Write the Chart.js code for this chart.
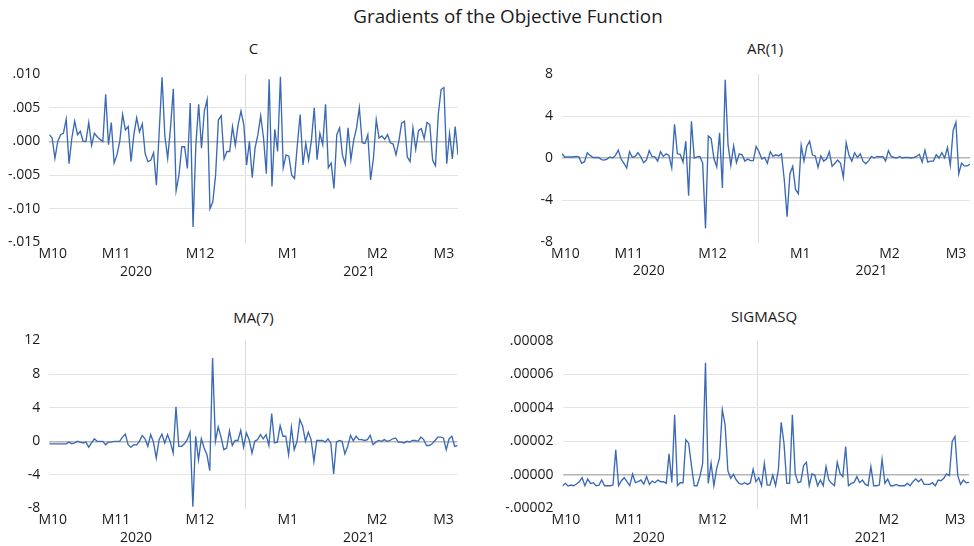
<!DOCTYPE html>
<html><head><meta charset="utf-8">
<script src="https://cdn.jsdelivr.net/npm/chart.js@4.4.1/dist/chart.umd.min.js"></script>
<style>
html,body{margin:0;padding:0;background:#fff;}
#wrap{position:relative;width:974px;height:546px;overflow:hidden;font-family:'Open Sans',sans-serif;color:#1a1a1a;background:#fff}
canvas{position:absolute}
.t{position:absolute;white-space:nowrap;transform:translate(-50%,-50%);line-height:1}
</style></head><body>
<div id="wrap">
  <div class="t" style="left:508px;top:16px;font-size:18.8px">Gradients of the Objective Function</div>
  <div class="t" style="left:253.5px;top:48px;font-size:15px">C</div>
  <div class="t" style="left:765px;top:48px;font-size:15px">AR(1)</div>
  <div class="t" style="left:253.5px;top:317px;font-size:15px">MA(7)</div>
  <div class="t" style="left:764px;top:316px;font-size:15px">SIGMASQ</div>
  <canvas id="p1" width="487" height="262" style="left:0px;top:30px"></canvas>
  <canvas id="p2" width="487" height="262" style="left:487px;top:30px"></canvas>
  <canvas id="p3" width="487" height="250" style="left:0px;top:296px"></canvas>
  <canvas id="p4" width="487" height="250" style="left:487px;top:296px"></canvas>
</div>
<script>
// ---- data (observation index 0..145, Oct 2020 - Mar 2021) ----
const C_VALUES = [
 .001,.0005,-.0025,0,.001,.0012,.0033,-.0033,.0005,.003,
 .001,.0015,0,0,.0028,-.0006,.0012,.0007,.0003,0,
 .007,-.0005,.0028,-.0032,-.002,0,.004,.0017,.0022,-.003,
 .001,.0035,.0014,.0026,-.0018,-.003,-.0028,-.0017,-.0065,.0015,
 .0095,.0008,-.0025,.002,.0078,-.0073,-.005,-.0008,-.0008,-.004,
 .0057,-.0127,-.0005,.0055,-.001,.0045,.0062,-.01,-.009,-.005,
 .0032,.0038,-.0026,-.0015,-.0015,.0022,-.0006,.0025,
 .0045,.0025,-.0035,0,-.0054,-.001,.001,.0038,.0005,-.0048,
 .0092,-.0067,.0018,-.0015,.0096,-.0039,-.002,-.0022,-.005,-.0055,
 -.0005,.004,-.0035,-.0003,-.0028,.0002,.005,-.0027,.0012,-.0005,
 .0055,-.0039,-.0032,-.007,.001,.002,-.002,-.0034,.002,-.0027,
 .0002,.002,.005,-.0002,-.0003,.001,-.0057,-.0025,.0032,.0005,
 .0008,.0003,.001,-.0002,-.0004,-.002,0,.0027,.003,-.0023,
 -.003,.002,-.0012,.0016,.0019,.0004,.0028,.0025,-.0028,-.0036,
 .004,.0077,.008,-.0033,.0012,-.0026,.0022,-.002
];
const AR1_VALUES = [
 0.4,0.1,0.1,0.1,0.1,0.15,0.1,-0.5,-0.35,0.5,
 0.25,0.05,0.05,0.05,-0.15,-0.2,-0.1,0.1,0,0.25,
 0.75,-0.1,-0.5,-0.95,0.6,0.05,0.15,0.5,0.1,-0.45,
 -0.2,0.7,0.15,0.1,-0.3,0.6,0.15,0.4,0.25,-0.95,
 3.2,0.4,0.35,-0.4,1.6,-3.6,3.5,0,0.1,0.15,
 -0.5,-6.7,2.1,1.85,-0.05,-0.85,2.4,-2.85,7.45,1.3,
 -0.7,1.15,-0.45,0.4,
 0.3,-0.3,-0.1,-0.25,-0.25,1.1,0.6,-0.1,0.05,-0.5,
 0.6,0.15,0.3,0.2,0.4,-2.1,-5.6,-1.5,-0.8,-3.0,
 -3.4,1.2,-0.3,1.1,1.6,0.3,0.2,-0.9,0.2,-0.3,
 -0.1,0.6,-0.8,-0.5,-0.2,-0.5,-1.85,1.45,0.25,-0.3,
 0.5,0.05,0.4,-0.3,-0.55,-0.25,0.15,0,0.15,0.1,
 0.15,-0.3,0.7,0.15,0.05,0,0.15,0,0.05,0.05,
 0,0.05,0.15,0.35,-0.4,0.75,-0.4,-0.3,-0.3,0.3,
 0,0.5,0,1.0,-0.7,2.6,3.4,-1.5,-0.5,-0.75,
 -0.75,-0.6
];
const MA7_VALUES = [
 -0.3,-0.3,-0.3,-0.3,-0.3,-0.3,-0.3,
 -0.1,-0.3,-0.2,0,-0.1,-0.2,-0.1,-0.7,-0.2,
 0.3,0,0,0,-0.4,-0.1,-0.1,0,0,0,
 0.5,0.85,-0.4,-0.7,-0.4,-0.45,0,0.7,0.3,-0.6,
 0.8,-0.1,-2.0,0.2,0.85,-0.2,0.8,-0.1,-1.4,4.1,
 -0.6,-0.6,-0.3,0.2,1.1,-7.8,0.6,-2.2,0.3,-0.8,
 -1.6,-3.5,9.9,0,1.7,0.5,-1.0,-0.8,1.25,-0.5,
 0.1,0.1,1.3,-0.7,1.0,0.2,
 -1.4,0,0.2,0.8,0.3,0.8,-0.5,3.3,-0.2,-0.1,
 1.85,0.6,0.6,-1.6,1.65,-1.0,0,2.6,1.8,0,
 1.1,0.2,-2.4,0.1,0.1,0.1,-0.1,0.3,-0.2,-3.9,
 -0.1,0.1,0,-1.5,-0.6,0.7,0.05,0.6,0.2,0.2,
 0.1,0.2,0.7,-0.4,-0.1,0.1,0,0.2,0,0.1,
 0.3,0.4,-0.1,-0.1,-0.2,0,-0.1,0.1,0.1,0,
 0.5,0.2,-0.5,-0.5,-0.3,0.1,0.5,0.5,0.4,-1.0,
 0.3,0.6,-0.6,-0.5
];
const SIGMASQ_VALUES = [
 -0.66e-5,-0.5e-5,-0.66e-5,-0.6e-5,-0.64e-5,-0.54e-5,-0.4e-5,-0.16e-5,-0.64e-5,-0.24e-5,
 -0.5e-5,-0.46e-5,-0.64e-5,-0.6e-5,-0.3e-5,-0.64e-5,-0.64e-5,-0.64e-5,-0.6e-5,1.5e-5,
 -0.64e-5,-0.34e-5,-0.16e-5,-0.4e-5,-0.64e-5,0.06e-5,-0.46e-5,-0.4e-5,-0.3e-5,-0.54e-5,
 -0.1e-5,-0.56e-5,-0.36e-5,-0.46e-5,-0.3e-5,-0.4e-5,-0.4e-5,-0.5e-5,1.26e-5,-0.44e-5,
 3.6e-5,-0.64e-5,-0.46e-5,-0.46e-5,2.1e-5,1.9e-5,0.56e-5,-0.64e-5,-0.64e-5,-0.1e-5,
 0.7e-5,6.7e-5,-0.5e-5,0.7e-5,-0.64e-5,0.4e-5,1.0e-5,3.9e-5,3.0e-5,0.24e-5,
 -0.2e-5,0.04e-5,-0.3e-5,-0.5e-5,
 -0.56e-5,-0.46e-5,-0.56e-5,-0.46e-5,0.34e-5,-0.4e-5,-0.16e-5,-0.64e-5,0.7e-5,-0.6e-5,
 -0.6e-5,0,-0.64e-5,0.3e-5,3.14e-5,1.9e-5,-0.5e-5,-0.5e-5,3.6e-5,0.1e-5,
 -0.46e-5,-0.4e-5,0.56e-5,0.76e-5,-0.64e-5,0.06e-5,0,-0.64e-5,-0.3e-5,-0.64e-5,
 0.5e-5,-0.3e-5,-0.5e-5,-0.64e-5,0.76e-5,0.1e-5,-0.1e-5,1.7e-5,-0.64e-5,-0.5e-5,
 -0.44e-5,-0.1e-5,-0.46e-5,-0.3e-5,-0.56e-5,-0.64e-5,0.5e-5,-0.64e-5,-0.64e-5,-0.6e-5,
 0.94e-5,-0.5e-5,-0.24e-5,-0.64e-5,-0.64e-5,-0.56e-5,-0.64e-5,-0.64e-5,-0.64e-5,-0.5e-5,
 -0.64e-5,-0.4e-5,-0.24e-5,-0.4e-5,-0.24e-5,-0.56e-5,-0.56e-5,-0.56e-5,-0.46e-5,-0.64e-5,
 -0.3e-5,-0.34e-5,-0.2e-5,0.06e-5,-0.04e-5,2.0e-5,2.3e-5,-0.04e-5,-0.56e-5,-0.3e-5,
 -0.46e-5,-0.44e-5
];
// x-axis tick labels (positions are observation indices)
const MONTH_LABELS = ['M10','M11','M12','M1','M2','M3'];
const MONTH_POS = [1.2, 23.7, 53.5, 84.7, 116.4, 140.0];
const YEAR_LABELS = ['2020','2021'];
const YEAR_POS = [30.8, 110];
const YEAR_BREAK = 69.7;
// y-axis ticks
const C_TICKS = [-0.015,-0.010,-0.005,0,0.005,0.010];
const AR1_TICKS = [-8,-4,0,4,8];
const MA7_TICKS = [-8,-4,0,4,8,12];
const SIGMASQ_TICKS = [-0.00002,0,0.00002,0.00004,0.00006,0.00008];

const FONT = "'Open Sans', sans-serif";
const TEXT = '#1a1a1a';
const LINE = '#3a6ab4';

function fmt(v, d){
  if (Math.abs(v) < 1e-12) v = 0;
  let s = Math.abs(v).toFixed(d);
  if (d > 0 && s.startsWith('0.')) s = s.slice(1);
  return (v < 0 ? '-' : '') + s;
}

function panel(id, values, yTicks, dec, box){
  const padTop = box.plotTop - box.top;
  const padRight = box.left + box.width - box.plotRight;
  const yW = box.plotLeft - box.left;
  const xH = box.top + box.height - box.plotBottom;
  const labels = values.map((_, i) => i);
  const xTicks = [...MONTH_POS, ...YEAR_POS, YEAR_BREAK].sort((a,b)=>a-b);
  const yMin = yTicks[0], yMax = yTicks[yTicks.length-1];
  new Chart(document.getElementById(id), {
    type: 'line',
    data: { labels, datasets: [{ data: values, borderColor: LINE, borderWidth: 1.35,
      pointRadius: 0, tension: 0, fill: false }] },
    options: {
      responsive: false, animation: false,
      layout: { padding: { top: padTop, right: padRight, left: 0, bottom: 0 } },
      plugins: { legend: { display: false }, tooltip: { enabled: false }, title: { display: false } },
      scales: {
        x: {
          type: 'linear', min: 0, max: values.length - 1,
          afterBuildTicks: s => { s.ticks = xTicks.map(v => ({value: v})); },
          afterFit: s => { s.height = xH; },
          border: { display: false },
          grid: { drawTicks: false,
            color: c => (c.tick && Math.abs(c.tick.value - YEAR_BREAK) < 1e-6) ? '#dcdcdc' : 'rgba(0,0,0,0)',
            lineWidth: 1 },
          ticks: { autoSkip: false, maxRotation: 0, minRotation: 0, padding: 3.25, color: TEXT,
            font: { family: FONT, size: 14, lineHeight: '17.5px' },
            callback: (v) => {
              const mi = MONTH_POS.findIndex(p => Math.abs(p - v) < 1e-6);
              if (mi >= 0) return MONTH_LABELS[mi];
              const yi = YEAR_POS.findIndex(p => Math.abs(p - v) < 1e-6);
              if (yi >= 0) return ['', YEAR_LABELS[yi]];
              return '';
            } }
        },
        y: {
          type: 'linear', min: yMin, max: yMax,
          afterBuildTicks: s => { s.ticks = yTicks.map(v => ({value: v})); },
          afterFit: s => { s.width = yW; },
          border: { display: false },
          grid: { drawTicks: false,
            color: c => {
              const v = c.tick ? c.tick.value : null;
              if (v === null || v === yMin || v === yMax) return 'rgba(0,0,0,0)';
              return v === 0 ? '#b5b5b5' : '#e4e4e4';
            },
            lineWidth: c => (c.tick && c.tick.value === 0) ? 1.6 : 1 },
          ticks: { padding: 9, color: TEXT, font: { family: FONT, size: 14 },
            callback: v => fmt(v, dec) }
        }
      }
    }
  });
}

panel('p1', C_VALUES, C_TICKS, 3,
  {left:0, top:30, width:487, height:262, plotLeft:49.3, plotRight:458, plotTop:74, plotBottom:242.5});
panel('p2', AR1_VALUES, AR1_TICKS, 0,
  {left:487, top:30, width:487, height:262, plotLeft:562, plotRight:970, plotTop:74, plotBottom:242});
panel('p3', MA7_VALUES, MA7_TICKS, 0,
  {left:0, top:296, width:487, height:250, plotLeft:49.3, plotRight:457.5, plotTop:340.5, plotBottom:508.5});
panel('p4', SIGMASQ_VALUES, SIGMASQ_TICKS, 5,
  {left:487, top:296, width:487, height:250, plotLeft:562.5, plotRight:969, plotTop:341, plotBottom:508.5});
</script>
</body></html>
